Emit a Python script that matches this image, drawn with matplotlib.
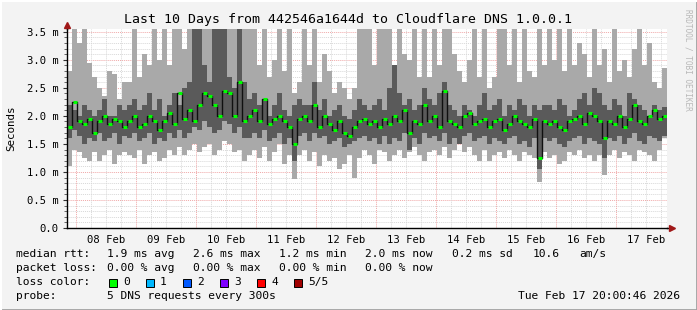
import matplotlib.pyplot as plt
import matplotlib.patches as patches
import numpy as np

plt.rcParams['font.family'] = 'DejaVu Sans Mono'

# 2-hour steps, hours relative to Feb 08 00:00
# smoke: p_min..p_max light, p_lo..p_hi dark, median in between (ms)
p_max = [2.8, 3.6, 3.3, 3.6, 2.95, 2.7, 2.5, 2.35, 2.8, 2.75, 2.3, 2.6,
         2.6, 3.6, 2.7, 3.1, 2.9, 3.6, 3.0, 3.6, 2.9, 3.6, 3.6, 3.2,
         3.6, 3.6, 3.6, 3.6, 3.6, 3.6, 3.6, 3.6, 3.6, 3.6, 3.6, 3.6,
         3.6, 3.6, 2.9, 3.6, 2.7, 3.0, 3.6, 2.8, 3.6, 2.4, 2.6, 3.6,
         2.9, 3.6, 2.6, 3.1, 2.8, 2.4, 2.6, 2.5, 2.3, 2.5, 3.6, 3.6,
         3.6, 2.9, 3.6, 3.6, 3.6, 2.8, 3.6, 3.1, 3.0, 3.6, 2.7, 3.6,
         2.7, 3.6, 2.9, 3.6, 3.6, 3.1, 2.8, 2.6, 3.0, 3.6, 2.7, 3.6,
         2.5, 2.7, 3.6, 3.6, 2.9, 3.6, 2.6, 3.6, 2.8, 2.7, 3.6, 2.9,
         3.6, 3.0, 3.6, 2.8, 3.6, 2.9, 3.3, 3.1, 2.7, 3.6, 2.9, 3.2,
         2.6, 3.6, 2.8, 3.0, 2.7, 3.2, 3.6, 2.9, 3.3, 2.6, 2.5, 2.85]
p_hi = [2.2, 2.1, 2.0, 2.2, 2.1, 2.0, 2.1, 2.3, 2.0, 2.0, 2.2, 2.1,
        2.2, 2.3, 2.1, 2.2, 2.4, 2.1, 2.3, 2.0, 2.2, 2.4, 2.2, 2.5,
        2.6, 3.6, 3.6, 2.9, 2.6, 3.6, 3.6, 3.6, 2.7, 2.5, 3.6, 2.6,
        2.3, 2.4, 2.2, 2.3, 2.0, 2.2, 2.4, 2.1, 2.0, 2.2, 2.3, 2.2,
        2.2, 2.6, 2.1, 2.3, 2.0, 2.1, 2.2, 2.0, 1.95, 2.1, 2.3, 2.2,
        2.1, 2.2, 2.3, 2.1, 2.5, 2.9, 2.4, 2.2, 2.3, 2.1, 2.2, 2.5,
        2.3, 2.2, 2.4, 2.6, 2.2, 2.1, 2.0, 2.2, 2.1, 2.0, 2.2, 2.4,
        2.1, 2.2, 2.3, 2.0, 2.2, 2.1, 2.3, 2.2, 2.0, 2.2, 2.1, 2.2,
        2.2, 2.1, 2.3, 2.2, 2.0, 2.1, 2.3, 2.4, 2.2, 2.5, 2.4, 2.2,
        2.1, 2.3, 2.2, 2.0, 2.4, 2.3, 2.2, 2.1, 2.0, 2.2, 2.1, 2.15]
median = [1.8, 2.25, 1.9, 1.85, 1.95, 1.7, 1.9, 2.0, 1.85, 1.95, 1.9, 1.8,
          1.9, 2.0, 1.8, 1.85, 2.0, 1.9, 1.75, 1.9, 2.05, 1.85, 2.4, 1.95,
          2.1, 1.9, 2.2, 2.4, 2.35, 2.2, 2.0, 2.45, 2.4, 2.0, 2.6, 1.9,
          2.0, 2.1, 1.9, 2.3, 1.85, 1.95, 2.0, 1.9, 1.8, 1.5, 1.95, 2.0,
          1.9, 2.2, 1.8, 2.0, 1.85, 1.75, 1.9, 1.7, 1.65, 1.8, 1.9, 1.95,
          1.85, 1.9, 1.8, 1.95, 1.85, 2.0, 1.9, 2.1, 1.7, 1.9, 1.85, 2.2,
          1.9, 2.0, 1.8, 2.45, 1.9, 1.85, 1.8, 2.0, 2.05, 1.85, 1.9, 1.95,
          1.8, 1.9, 1.95, 1.75, 1.85, 2.0, 1.9, 1.85, 1.8, 1.95, 1.25, 1.9,
          1.85, 1.9, 1.8, 1.75, 1.9, 1.95, 2.0, 1.85, 2.05, 2.0, 1.9, 1.6,
          1.9, 1.85, 2.0, 1.8, 1.95, 2.2, 1.9, 1.85, 2.0, 2.1, 1.95, 2.0]
p_lo = [1.6, 1.75, 1.65, 1.5, 1.6, 1.55, 1.7, 1.55, 1.6, 1.7, 1.5, 1.65,
        1.6, 1.7, 1.55, 1.6, 1.7, 1.5, 1.6, 1.55, 1.7, 1.6, 1.75, 1.6,
        1.7, 1.8, 1.75, 1.9, 1.8, 1.7, 1.75, 1.9, 1.85, 1.7, 1.8, 1.6,
        1.6, 1.7, 1.6, 1.75, 1.55, 1.6, 1.7, 1.5, 1.6, 1.2, 1.65, 1.7,
        1.55, 1.7, 1.6, 1.65, 1.5, 1.55, 1.6, 1.45, 1.5, 1.55, 1.6, 1.65,
        1.55, 1.6, 1.5, 1.65, 1.5, 1.6, 1.55, 1.7, 1.4, 1.6, 1.5, 1.7,
        1.6, 1.65, 1.55, 1.7, 1.5, 1.6, 1.5, 1.65, 1.7, 1.55, 1.6, 1.65,
        1.5, 1.6, 1.55, 1.5, 1.6, 1.65, 1.5, 1.55, 1.45, 1.6, 1.05, 1.6,
        1.55, 1.6, 1.5, 1.45, 1.55, 1.6, 1.65, 1.5, 1.6, 1.55, 1.5, 1.25,
        1.6, 1.55, 1.65, 1.5, 1.6, 1.7, 1.55, 1.5, 1.65, 1.6, 1.55, 1.65]
p_min = [1.1, 1.4, 1.35, 1.25, 1.2, 1.35, 1.2, 1.3, 1.4, 1.15, 1.3, 1.35,
         1.3, 1.25, 1.4, 1.15, 1.3, 1.35, 1.2, 1.25, 1.4, 1.3, 1.45, 1.3,
         1.4, 1.5, 1.35, 1.45, 1.5, 1.3, 1.4, 1.55, 1.5, 1.35, 1.4, 1.2,
         1.3, 1.4, 1.25, 1.45, 1.2, 1.35, 1.5, 1.15, 1.3, 0.87, 1.3, 1.4,
         1.2, 1.35, 1.1, 1.3, 1.2, 1.25, 1.05, 1.15, 1.3, 0.9, 1.25, 1.4,
         1.3, 1.15, 1.4, 1.35, 1.2, 1.3, 1.4, 1.25, 1.35, 1.45, 1.3, 1.2,
         1.35, 1.4, 1.3, 1.45, 1.25, 1.4, 1.5, 1.35, 1.45, 1.3, 1.2, 1.4,
         1.2, 1.3, 1.35, 1.25, 1.4, 1.3, 1.2, 1.35, 1.3, 1.25, 0.82, 1.35,
         1.25, 1.3, 1.15, 1.2, 1.35, 1.3, 1.4, 1.25, 1.3, 1.2, 1.3, 0.95,
         1.3, 1.4, 1.25, 1.35, 1.3, 1.2, 1.4, 1.35, 1.3, 1.2, 1.4, 1.6]

day_labels = ['08 Feb', '09 Feb', '10 Feb', '11 Feb', '12 Feb',
              '13 Feb', '14 Feb', '15 Feb', '16 Feb', '17 Feb']
loss_colors = ['#00ff00', '#00b8ff', '#0059ff', '#7e00ff', '#ff0000', '#a00000']
loss_labels = ['0', '1', '2', '3', '4', '5/5']

W, H = 697, 310
hours = -2.5 + 2 * np.arange(len(median))
p_max = np.array(p_max)
p_hi = np.array(p_hi)
p_lo = np.array(p_lo)
p_min = np.array(p_min)
median = np.array(median)

fig = plt.figure(figsize=(W / 100, H / 100), dpi=100, facecolor='#f3f3f3')


def px(x, y):
    return x / W, 1 - y / H


# frame
fig.add_artist(patches.Rectangle((0, 0), 1, 1, transform=fig.transFigure,
                                 fill=False, edgecolor='#a0a0a0', lw=2))
fig.add_artist(plt.Line2D([0, 1], [1 - 1 / H, 1 - 1 / H], color='#ffffff', lw=1.5))
fig.add_artist(plt.Line2D([1 / W, 1 / W], [0, 1], color='#ffffff', lw=1.5))

ax = fig.add_axes([67 / W, 82 / H, 600 / W, 199 / H])
ax.set_facecolor('white')
ax.set_xlim(-3.5, 236.5)
ax.set_ylim(0, 3.55)

# grid
for v in np.arange(0.1, 3.55, 0.1):
    major = abs(v / 0.5 - round(v / 0.5)) < 1e-6
    ax.axhline(v, color='#f0a8a8' if major else '#d8d8d8',
               lw=0.7, ls=(0, (1, 1)), zorder=0)
for h in range(-0, 237, 6):
    major = h % 24 == 0
    ax.axvline(h, color='#f0a8a8' if major else '#d8d8d8',
               lw=0.7, ls=(0, (1, 1)), zorder=0)

# smoke
top = np.minimum(p_max, 3.6)
ax.bar(hours, top - p_min, bottom=p_min, width=2.0,
       color='#a9a9a9', lw=0, zorder=1)
ax.bar(hours, np.minimum(p_hi, 3.6) - p_lo, bottom=p_lo, width=2.0,
       color='#5a5a5a', lw=0, zorder=2)

# median
ax.step(hours, median, where='mid', color='#101010', lw=1.0, zorder=3)
ax.hlines(median, hours - 0.8, hours + 0.8, color='#00ff00', lw=2.2, zorder=4)

ax.set_yticks(np.arange(0, 3.51, 0.5))
ax.set_yticklabels(['0.0'] + ['%.1f m' % v for v in np.arange(0.5, 3.51, 0.5)])
ax.set_yticks(np.arange(0, 3.55, 0.1), minor=True)
ax.set_xticks([12 + 24 * i for i in range(10)])
ax.set_xticklabels(day_labels)
ax.set_xticks(range(0, 237, 6), minor=True)
ax.tick_params(axis='both', which='major', labelsize=7.6, length=3,
               width=0.8, color='#303030', pad=3)
ax.tick_params(axis='x', which='major', length=0, pad=5)
ax.tick_params(axis='both', which='minor', length=2, width=0.6, color='#505050')
ax.tick_params(axis='x', which='minor', length=0)
for s in ['top', 'right']:
    ax.spines[s].set_visible(False)
ax.spines['left'].set_linewidth(1.0)
ax.spines['bottom'].set_linewidth(1.0)

# axis arrows
ax.plot([-3.5], [3.62], marker='^', color='#a01818', ms=4, clip_on=False, zorder=6)
ax.plot([-3.5, -3.5], [3.55, 3.62], color='black', lw=1, clip_on=False)
ax.plot([236.5, 238.5], [0, 0], color='black', lw=1, clip_on=False)
ax.plot([238.5], [0], marker='>', color='#a01818', ms=4, clip_on=False, zorder=6)

# titles
fig.text(*px(348, 19), 'Last 10 Days from 442546a1644d to Cloudflare DNS 1.0.0.1',
         ha='center', va='center', fontsize=9.5)
fig.text(*px(11, 128), 'Seconds', rotation=90, ha='center', va='center', fontsize=7.8)
fig.text(*px(688, 60), 'RRDTOOL / TOBI OETIKER', rotation=270, ha='center',
         va='center', fontsize=5.6, color='#b8b8b8')

# legend block
fs = 8.1
rows = [254, 268, 282, 296]
fig.text(*px(16, rows[0]), 'median rtt:', va='center', fontsize=fs)
for x, s in zip([107, 193, 279, 365, 452, 533, 579],
                ['1.9 ms avg', '2.6 ms max', '1.2 ms min', '2.0 ms now',
                 '0.2 ms sd', '10.6', 'am/s']):
    fig.text(*px(x, rows[0]), s, va='center', fontsize=fs)
fig.text(*px(16, rows[1]), 'packet loss:', va='center', fontsize=fs)
for x, s in zip([107, 193, 279, 365],
                ['0.00 % avg', '0.00 % max', '0.00 % min', '0.00 % now']):
    fig.text(*px(x, rows[1]), s, va='center', fontsize=fs)
fig.text(*px(16, rows[2]), 'loss color:', va='center', fontsize=fs)
for i, (c, s) in enumerate(zip(loss_colors, loss_labels)):
    bx = 109 + i * 37
    fig.add_artist(patches.Rectangle(px(bx, rows[2] + 4.5), 8 / W, 8 / H,
                                     transform=fig.transFigure, facecolor=c,
                                     edgecolor='black', lw=0.7))
    fig.text(*px(bx + 14, rows[2]), s, va='center', fontsize=fs)
fig.text(*px(16, rows[3]), 'probe:', va='center', fontsize=fs)
fig.text(*px(107, rows[3]), '5 DNS requests every 300s', va='center', fontsize=fs)
fig.text(*px(680, rows[3]), 'Tue Feb 17 20:00:46 2026', ha='right', va='center',
         fontsize=fs)

fig.savefig('out.png', dpi=100, facecolor=fig.get_facecolor())
